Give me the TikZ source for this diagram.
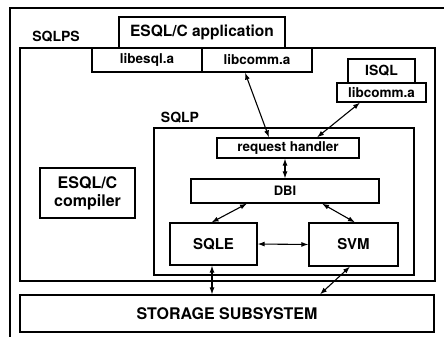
\documentclass[tikz,border=0pt]{standalone}
\usepackage{fontspec}
\setmainfont{TeX Gyre Heros}
\usetikzlibrary{arrows.meta}
\begin{document}
\begin{tikzpicture}[x=1pt,y=-1pt,line width=1.2pt,
		box/.style={draw,rectangle,inner sep=0pt,font=\bfseries\fontsize{13.5}{15}\selectfont},
		lbl/.style={inner sep=0pt,font=\bfseries\fontsize{14}{16}\selectfont},
		pil/.style={{Latex[length=7pt,width=5pt]}-{Latex[length=7pt,width=5pt]},line width=1.1pt}]
		\useasboundingbox (0,0) rectangle (444,337);

		% Ytre ramme
		\draw (444,8) -- (10,8) -- (10,337);

		% SQLPS
		\node[box,minimum width=415pt,minimum height=233pt] (sqlps) at (227.5,164.5) {};
		\node[lbl] (sqlpslbl) at (56,37) {SQLPS};

		% Applikasjon med bibliotek
		\node[box,minimum width=166pt,minimum height=31pt,
			font=\bfseries\fontsize{15.5}{17}\selectfont] (app) at (202,32.5) {ESQL/C application};
		\node[box,minimum width=110pt,minimum height=24pt] (libesql) at (147,60) {libesql.a};
		\node[box,minimum width=110pt,minimum height=24pt] (libcomm) at (257,60) {libcomm.a};

		% ISQL
		\node[box,minimum width=67pt,minimum height=24pt,
			font=\bfseries\fontsize{14}{16}\selectfont] (isql) at (381.5,71) {ISQL};
		\node[box,minimum width=89pt,minimum height=19pt] (isqlcomm) at (381.5,92.5) {libcomm.a};

		% Kompilator
		\node[box,minimum width=95pt,minimum height=50pt,align=center,
			font=\bfseries\fontsize{16}{18}\selectfont] (compiler) at (87.5,193) {ESQL/C\\compiler};

		% SQLP
		\node[box,minimum width=260pt,minimum height=147pt] (sqlp) at (284,201.5) {};
		\node[lbl] (sqlplbl) at (180,118) {SQLP};
		\node[box,minimum width=142pt,minimum height=20pt] (handler) at (288,148) {request handler};
		\node[box,minimum width=188pt,minimum height=24pt,
			font=\bfseries\fontsize{13}{15}\selectfont] (dbi) at (285,191) {DBI};
		\node[box,minimum width=87pt,minimum height=42pt,
			font=\bfseries\fontsize{15}{17}\selectfont] (sqle) at (213.5,244) {SQLE};
		\node[box,minimum width=89pt,minimum height=43pt,
			font=\bfseries\fontsize{15}{17}\selectfont] (svm) at (353.5,244.5) {SVM};

		% Lager
		\node[box,minimum width=414pt,minimum height=37pt,
			font=\bfseries\fontsize{16}{18}\selectfont] (storage) at (227,313.5) {STORAGE SUBSYSTEM};

		% Piler
		\draw[pil] ([xshift=-12pt]libcomm.south) -- ([xshift=-19pt]handler.north);
		\draw[pil] ([xshift=-21.5pt]isqlcomm.south) -- ([xshift=29pt]handler.north);
		\draw[pil] ([xshift=-3pt]handler.south) -- (dbi.north);
		\draw[pil] ([xshift=-38pt]dbi.south) -- ([xshift=-2pt]sqle.north);
		\draw[pil] ([xshift=37pt]dbi.south) -- ([xshift=1.5pt]svm.north);
		\draw[pil] (sqle.east) -- (svm.west);
		\draw[pil] ([xshift=-1.5pt]sqle.south) -- ([xshift=-15pt]storage.north);
		\draw[pil] ([xshift=-3.5pt]svm.south) -- ([xshift=93pt]storage.north);
	\end{tikzpicture}
\end{document}
